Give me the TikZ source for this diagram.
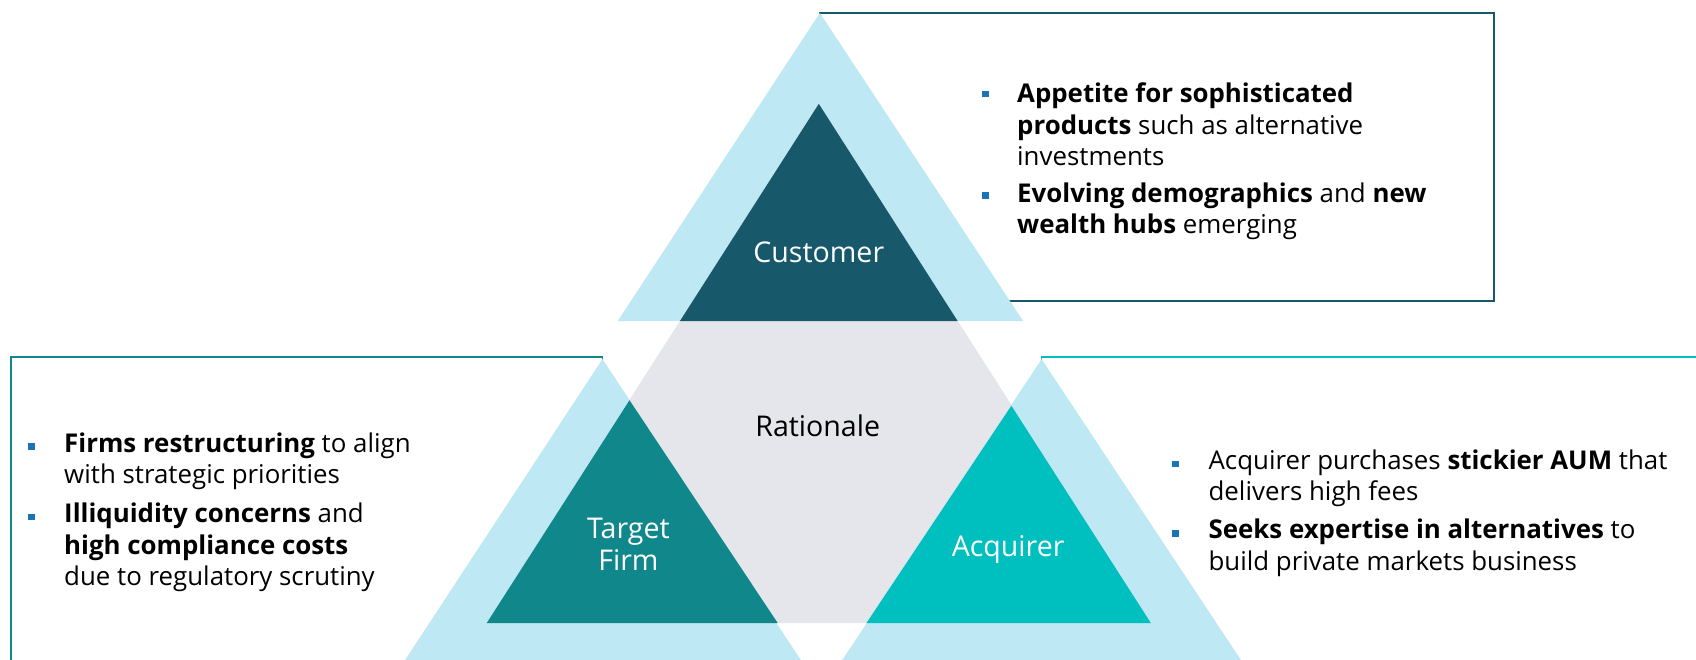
\documentclass[tikz,border=0pt]{standalone}
\usepackage{fontspec}
\setmainfont{Open Sans}
\definecolor{lightblue}{HTML}{BEE8F3}
\definecolor{darkteal}{HTML}{17596B}
\definecolor{tealc}{HTML}{10878A}
\definecolor{cyanc}{HTML}{00BFBF}
\definecolor{grayc}{HTML}{E5E6EB}
\definecolor{bulletblue}{HTML}{1874B6}
\tikzset{
  outertri/.style={fill=lightblue, draw=none},
  boxline/.style={line width=0.8pt},
  itemtxt/.style={anchor=west, align=left, inner sep=0pt, font=\fontsize{11.95}{14.6}\selectfont, text=black},
  bulletsq/.style={fill=bulletblue, draw=none, minimum size=3.1pt, inner sep=0pt},
  lbl/.style={font=\fontsize{13.2}{15}\selectfont, align=center, inner sep=0pt}
}
\begin{document}
\begin{tikzpicture}[x=0.5pt,y=-0.5pt]
\clip (0,0) rectangle (1568,610);
\fill[white] (0,0) rectangle (1568,610);
% boxes
\draw[boxline, draw=darkteal] (758,12) rectangle (1381,278);
\draw[boxline, draw=tealc] (10,330) rectangle (557,700);
\draw[boxline, draw=cyanc] (963,330) rectangle (1700,700);
% outer light triangles
\fill[outertri] (758,12) -- (571,297) -- (946,297) -- cycle;
\fill[outertri] (557,332) -- (355,640) -- (760,640) -- cycle;
\fill[outertri] (963,332) -- (759,640) -- (1167,640) -- cycle;
% big gray triangle
\fill[grayc] (757,96) -- (450,576) -- (1064,576) -- cycle;
% inner triangles
\fill[darkteal] (757,96) -- (628.5,297) -- (885.5,297) -- cycle;
\fill[tealc] (582,370) -- (450,576) -- (719,576) -- cycle;
\fill[cyanc] (935,375) -- (801,576) -- (1064,576) -- cycle;
% labels
\node[lbl, text=white] (cust) at (757,233) {Customer};
\node[lbl, text=black] (rat) at (756,394) {Rationale};
\node[lbl, text=white] (targ) at (581,503) {Target\\Firm};
\node[lbl, text=white] (acq) at (932,508) {Acquirer};
% customer items
\node[bulletsq] (cb1) at (911,87) {};
\node[itemtxt] (c1) at (940,115) {\textbf{Appetite for sophisticated}\\\textbf{products} such as alternative\\investments};
\node[bulletsq] (cb2) at (911,181) {};
\node[itemtxt] (c2) at (940,195.5) {\textbf{Evolving demographics} and \textbf{new}\\\textbf{wealth hubs} emerging};
% target items
\node[bulletsq] (tb1) at (29,413) {};
\node[itemtxt] (t1) at (59,426.5) {\textbf{Firms restructuring} to align\\with strategic priorities};
\node[bulletsq] (tb2) at (29,478) {};
\node[itemtxt] (t2) at (59,506) {\textbf{Illiquidity concerns} and\\\textbf{high compliance costs}\\due to regulatory scrutiny};
% acquirer items
\node[bulletsq] (ab1) at (1087,429) {};
\node[itemtxt] (a1) at (1117,442) {Acquirer purchases \textbf{stickier AUM} that\\delivers high fees};
\node[bulletsq] (ab2) at (1087,493) {};
\node[itemtxt] (a2) at (1117,506.5) {\textbf{Seeks expertise in alternatives} to\\build private markets business};
\end{tikzpicture}
\end{document}
